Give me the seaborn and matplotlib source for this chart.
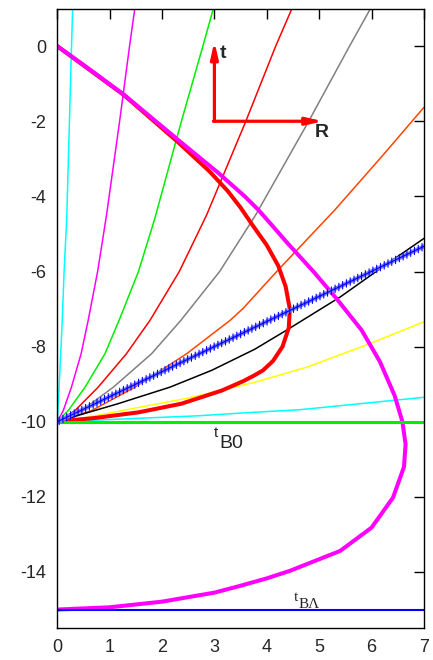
import numpy as np
import matplotlib
matplotlib.use("Agg")
import matplotlib.pyplot as plt
import matplotlib.patheffects as pe
import seaborn as sns

# ── Data (R horizontal, t vertical) ───────────────────────────────────────────
cyan1_R = [0, 0.02, 0.05, 0.095, 0.13, 0.18, 0.232, 0.272, 0.293]
cyan1_t = [-10, -9.52, -8.63, -7.3, -6, -4.6, -2, 0, 1]

mag1_R = [0, 0.115, 0.27, 0.455, 0.59, 0.77, 0.94, 1.19, 1.38, 1.48]
mag1_t = [-10, -9.70, -9.08, -8.19, -7.3, -6, -4.5, -2, 0, 1]

green1_R = [0, 0.21, 0.53, 0.91, 1.18, 1.55, 1.86, 2.37, 2.78, 2.98]
green1_t = [-10, -9.70, -9.08, -8.19, -7.3, -6, -4.6, -2, 0, 1]

red1_R = [0, 0.34, 0.78, 1.32, 1.77, 2.33, 2.85, 3.60, 4.17, 4.48]
red1_t = [-10, -9.70, -9.08, -8.19, -7.3, -6, -4.5, -2, 0, 1]

gray1_R = [0, 0.47, 1.07, 1.80, 2.36, 3.10, 3.79, 4.80, 5.58, 5.98]
gray1_t = [-10, -9.70, -9.08, -8.19, -7.3, -6, -4.49, -2, 0, 1]

orange1_R = [0, 0.66, 1.48, 2.47, 3.30, 3.55, 4.19, 5.30, 6.22, 7.0]
orange1_t = [-10, -9.70, -9.08, -8.19, -7.3, -6.98, -6, -4.36, -2.9, -1.63]

black1_R = [0, 0.40, 1.16, 2.15, 2.95, 3.77, 4.38, 5.40, 6.22, 7.0]
black1_t = [-10, -9.83, -9.52, -9.08, -8.63, -8.07, -7.56, -6.68, -5.87, -5.12]

yellow1_R = [0, 0.59, 1.36, 2.50, 3.77, 4.76, 5.97, 7.0]
yellow1_t = [-10, -9.88, -9.67, -9.37, -8.95, -8.55, -7.92, -7.34]

cyan2_R = [0, 1.86, 2.72, 3.49, 4.63, 7.0]
cyan2_t = [-10, -9.89, -9.84, -9.77, -9.68, -9.35]

# straight line with crosses
ah_R = [0, 7.0]
ah_t = [-10, -5.33]

# thick red past light cone (t_B = -10)
cone0_R = [0, 1.27, 2.30, 2.91, 3.25, 3.50, 3.72, 4.0, 4.22, 4.36, 4.44, 4.42,
           4.30, 4.12, 3.93, 3.77, 3.55, 3.14, 2.37, 1.55, 0.72, 0.19, 0]
cone0_t = [0, -1.3, -2.55, -3.34, -3.85, -4.3, -4.75, -5.3, -5.85, -6.4, -7.0, -7.5,
           -8.0, -8.38, -8.63, -8.76, -8.92, -9.17, -9.52, -9.75, -9.90, -9.97, -10]

# thick magenta past light cone (t_B = -15)
coneL_R = [0, 0.6, 1.27, 2.31, 3.07, 3.58, 3.84, 4.08, 4.38, 4.89, 5.33, 5.81,
           6.16, 6.44, 6.59, 6.65, 6.62, 6.41, 6.0, 5.40, 4.44, 4.0, 3.49, 3.0,
           2.0, 1.0, 0]
coneL_t = [0, -0.6, -1.29, -2.5, -3.37, -4.0, -4.36, -4.74, -5.22, -6.0, -6.72,
           -7.56, -8.40, -9.30, -10.0, -10.6, -11.2, -12.02, -12.82, -13.44,
           -13.97, -14.17, -14.37, -14.55, -14.79, -14.94, -15.0]

tB0 = -10
tBL = -15

xticks = [0, 1, 2, 3, 4, 5, 6, 7]
yticks = [0, -2, -4, -6, -8, -10, -12, -14]

# ── Style ────────────────────────────────────────────────────────────────────
sns.set_theme(style="white")
plt.rcParams["font.family"] = ["Liberation Sans", "DejaVu Sans"]
plt.rcParams.update({
    "xtick.direction": "in", "ytick.direction": "in",
    "xtick.top": True, "ytick.right": True,
    "axes.edgecolor": "black", "axes.linewidth": 1.0,
})

fig = plt.figure(figsize=(4.33, 6.6), dpi=100)
ax = fig.add_axes([0.1323, 0.048, 0.979 - 0.1323, 0.987 - 0.048])

thin = [
    (cyan1_R, cyan1_t, "#00ffff"),
    (mag1_R, mag1_t, "#ff00ff"),
    (green1_R, green1_t, "#00ee00"),
    (red1_R, red1_t, "#ff0000"),
    (gray1_R, gray1_t, "#808080"),
    (orange1_R, orange1_t, "#ff4500"),
    (black1_R, black1_t, "#000000"),
    (yellow1_R, yellow1_t, "#ffff00"),
    (cyan2_R, cyan2_t, "#00ffff"),
]
for R, t, c in thin:
    sns.lineplot(x=R, y=t, ax=ax, color=c, lw=1.1, sort=False, estimator=None)

sns.lineplot(x=cone0_R, y=cone0_t, ax=ax, color="#ff0000", lw=2.9, sort=False, estimator=None)
sns.lineplot(x=coneL_R, y=coneL_t, ax=ax, color="#ff00ff", lw=2.9, sort=False, estimator=None)

# short red stub peeking under the t_B0 line
sns.lineplot(x=[0, 0.49], y=[-10.04, -10.04], ax=ax, color="#ff0000", lw=1.5,
             sort=False, estimator=None)
ax.axhline(tB0, color="#00ee00", lw=2.2)
ax.axhline(tBL, color="#0000ff", lw=1.5)

# crossed straight line
sns.lineplot(x=ah_R, y=ah_t, ax=ax, color="#8080ff", lw=3.0, sort=False, estimator=None)
sns.lineplot(x=ah_R, y=ah_t, ax=ax, color="#0000ff", lw=0.8, sort=False, estimator=None)
ax.lines[-1].set_path_effects([
    pe.TickedStroke(spacing=3.0, angle=64.5, length=0.9),
    pe.TickedStroke(spacing=3.0, angle=-115.5, length=0.9),
    pe.Normal(),
])

# axes arrows
arw = dict(arrowstyle="-|>,head_length=0.8,head_width=0.18", color="#ff0000", lw=2.3,
           shrinkA=0, shrinkB=0)
ax.annotate("", xy=(3.0, 0.13), xytext=(3.0, -2.0), arrowprops=arw)
ax.annotate("", xy=(5.08, -2.0), xytext=(2.98, -2.0), arrowprops=arw)
ax.text(3.11, -0.2, "t", fontsize=14, fontweight="bold", va="center", ha="left")
ax.text(4.92, -2.3, "R", fontsize=14, fontweight="bold", va="center", ha="left")

# bang time labels
ax.text(2.99, -10.40, "t", fontsize=11, va="baseline", ha="left")
ax.text(3.10, -10.69, "B0", fontsize=14, va="baseline", ha="left")
ax.text(4.52, -14.78, "t", fontsize=11, va="baseline", ha="left",
        family=["Liberation Serif", "DejaVu Serif"])
ax.text(4.61, -14.97, "BΛ", fontsize=11, va="baseline", ha="left",
        family=["Liberation Serif", "DejaVu Serif"])

ax.set_xlim(0, 7)
ax.set_ylim(-15.5, 1.0)
ax.set_xticks(xticks)
ax.set_yticks(yticks)
ax.set_yticklabels([f"{v:d}" for v in yticks])
ax.tick_params(length=7, width=1, labelsize=13, color="black", pad=8)
ax.set_xlabel("")
ax.set_ylabel("")

fig.savefig("out.png", dpi=100)
